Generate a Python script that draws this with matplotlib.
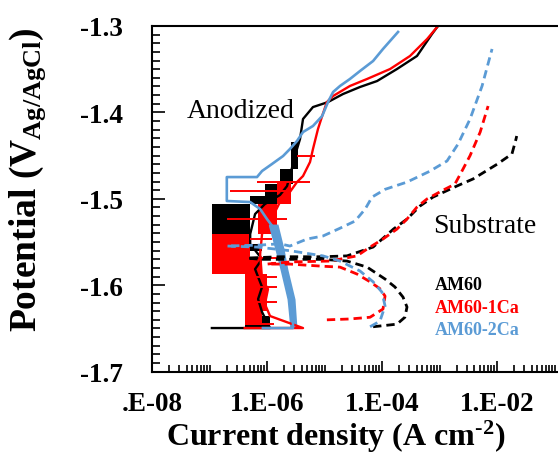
import matplotlib
matplotlib.use("Agg")
import matplotlib.pyplot as plt
from matplotlib.ticker import LogLocator, MultipleLocator, NullFormatter

plt.rcParams["font.family"] = "Liberation Serif"
plt.rcParams["mathtext.fontset"] = "custom"
plt.rcParams["mathtext.rm"] = "Liberation Serif:bold"
plt.rcParams["mathtext.it"] = "Liberation Serif:bold"
plt.rcParams["mathtext.bf"] = "Liberation Serif:bold"

BLACK = "#000000"
RED = "#ff0000"
BLUE = "#5b9bd5"

# ---- anodized samples (solid), potential in V, current in A/cm2 ----
ano_am60_E = [-1.6495, -1.6495, -1.631, -1.616, -1.602, -1.5813, -1.5697, -1.5523,
              -1.5407, -1.5176, -1.506, -1.4956, -1.4852, -1.4736, -1.4597, -1.4424,
              -1.4308, -1.4076, -1.3938, -1.3903, -1.388, -1.3787, -1.3706, -1.3637,
              -1.3498, -1.3347, -1.3093, -1.300]
ano_am60_i = [1.1e-7, 1.13e-6, 8.2e-7, 7.0e-7, 8.2e-7, 6.2e-7, 8.2e-7, 5.1e-7,
              5.1e-7, 6.2e-7, 9.2e-7, 1.68e-6, 2.23e-6, 2.5e-6, 2.83e-6, 3.32e-6,
              3.75e-6, 4.23e-6, 6.3e-6, 9.1e-6, 1.15e-5, 2.1e-5, 4.14e-5, 8.2e-5,
              1.82e-4, 4.06e-4, 7.4e-4, 9.4e-4]
# noisy blocks: bottom potential, top potential, low and high current
am60_blk_Eb = [-1.6495, -1.6299, -1.6113, -1.5604, -1.543, -1.506, -1.497, -1.483, -1.4655]
am60_blk_Et = [-1.6356, -1.6218, -1.6021, -1.5523, -1.506, -1.497, -1.483, -1.4655, -1.434]
am60_blk_lo = [4.1e-7, 4.1e-7, 4.1e-7, 2.0e-7, 1.1e-7, 5.1e-7, 9.2e-7, 1.7e-6, 2.6e-6]
am60_blk_hi = [1.13e-6, 8.2e-7, 8.2e-7, 8.2e-7, 5.1e-7, 1.49e-6, 2.06e-6, 2.8e-6, 3.5e-6]

ano_1ca_E = [-1.6495, -1.6495, -1.6356, -1.6218, -1.6044, -1.5928, -1.5639, -1.5407,
             -1.5315, -1.5199, -1.5037, -1.4921, -1.4806, -1.4736, -1.4574, -1.4424,
             -1.4192, -1.4042, -1.388, -1.381, -1.3694, -1.3613, -1.3498, -1.3347,
             -1.315, -1.300]
ano_1ca_i = [4.1e-7, 4.23e-6, 1.13e-6, 9.2e-7, 1.04e-6, 8.2e-7, 7.6e-7, 8.2e-7,
             1.0e-6, 1.27e-6, 1.68e-6, 2.5e-6, 3.32e-6, 4.23e-6, 5.6e-6, 6.3e-6,
             7.7e-6, 9.1e-6, 1.1e-5, 1.41e-5, 2.77e-5, 5.5e-5, 1.38e-4, 3.07e-4,
             6.1e-4, 9.4e-4]
ca1_blk_Eb = [-1.646, -1.6299, -1.587, -1.5674, -1.5407, -1.5055]
ca1_blk_Et = [-1.6299, -1.587, -1.5674, -1.5407, -1.5055, -1.4806]
ca1_blk_lo = [4.1e-7, 4.1e-7, 1.1e-7, 1.1e-7, 7.0e-7, 1.5e-6]
ca1_blk_hi = [8.2e-7, 1.0e-6, 8.2e-7, 5.1e-7, 1.5e-6, 2.6e-6]
# single noise spikes
ca1_spk_E = [-1.4505, -1.4806, -1.4915, -1.5234, -1.5465, -1.5685, -1.5905,
             -1.602, -1.619, -1.645]
ca1_spk_lo = [3.3e-6, 6.7e-7, 2.3e-7, 2.0e-7, 5.1e-7, 5.1e-7, 6.0e-7,
              6.0e-7, 6.0e-7, 6.0e-7]
ca1_spk_hi = [6.8e-6, 5.6e-6, 2.5e-6, 2.2e-6, 1.2e-6, 1.5e-6, 1.5e-6,
              1.5e-6, 1.5e-6, 1.3e-6]

ano_2ca_E = [-1.6495, -1.6495, -1.616, -1.5813, -1.558, -1.5326, -1.5234, -1.5118,
             -1.5037, -1.5025, -1.4748, -1.4748, -1.4678, -1.4597, -1.4505, -1.4424,
             -1.4331, -1.4227, -1.4157, -1.4042, -1.388, -1.3764, -1.3694, -1.3613,
             -1.3521, -1.3405, -1.3266, -1.3069]
ano_2ca_i = [8.5e-7, 2.83e-6, 2.83e-6, 1.98e-6, 1.6e-6, 1.27e-6, 1.0e-6, 7.6e-7,
             5.1e-7, 2.0e-7, 2.0e-7, 6.7e-7, 8.2e-7, 1.22e-6, 1.9e-6, 2.5e-6,
             3.32e-6, 4.23e-6, 6.3e-6, 9.1e-6, 1.15e-5, 1.41e-5, 1.86e-5, 2.77e-5,
             4.14e-5, 7.0e-5, 1.04e-4, 1.9e-4]
ca2_band_E = [-1.6495, -1.616, -1.5813, -1.558, -1.5292]
ca2_band_lo = [2.5e-6, 2.23e-6, 1.68e-6, 1.37e-6, 1.04e-6]
ca2_band_hi = [3.32e-6, 3.07e-6, 2.3e-6, 1.98e-6, 1.55e-6]

# ---- bare substrates (dashed) ----
sub_am60_E = [-1.648, -1.645, -1.637, -1.6252, -1.6137, -1.602, -1.5928, -1.579,
              -1.572, -1.570, -1.570, -1.570, -1.5685, -1.567, -1.567, -1.566,
              -1.5558, -1.535, -1.5234, -1.5083, -1.498, -1.4852, -1.477, -1.460,
              -1.448, -1.4308, -1.4273]
sub_am60_i = [7.0e-5, 1.82e-4, 2.5e-4, 2.72e-4, 2.32e-4, 1.68e-4, 1.13e-4, 5.5e-5,
              2.46e-5, 9.4e-6, 2.5e-6, 7.6e-7, 4.5e-7, 1.68e-6, 9.4e-6, 2.46e-5,
              7.0e-5, 1.58e-4, 2.72e-4, 4.58e-4, 7.7e-4, 2.0e-3, 3.83e-3, 1.0e-2,
              1.82e-2, 2.14e-2, 2.2e-2]

sub_1ca_E = [-1.640, -1.639, -1.637, -1.6275, -1.6125, -1.604, -1.596, -1.587,
             -1.579, -1.578, -1.5755, -1.5755, -1.573, -1.572, -1.566, -1.5558,
             -1.5465, -1.535, -1.5234, -1.5095, -1.500, -1.490, -1.483, -1.468,
             -1.450, -1.4227, -1.3926]
sub_1ca_i = [1.1e-5, 2.77e-5, 6.2e-5, 1.04e-4, 1.13e-4, 9.2e-5, 6.2e-5, 3.67e-5,
             1.86e-5, 9.4e-6, 2.5e-6, 1.0e-6, 2.5e-6, 1.25e-5, 3.67e-5, 6.2e-5,
             1.04e-4, 1.82e-4, 2.72e-4, 4.06e-4, 6.1e-4, 1.15e-3, 1.85e-3, 2.45e-3,
             3.4e-3, 5.1e-3, 7.0e-3]

sub_2ca_E = [-1.648, -1.6415, -1.624, -1.608, -1.596, -1.5835, -1.572, -1.566,
             -1.560, -1.5558, -1.5546, -1.5535, -1.552, -1.5546, -1.5465, -1.543,
             -1.534, -1.5257, -1.5118, -1.498, -1.489, -1.4806, -1.468, -1.4562,
             -1.4366, -1.4076, -1.3694, -1.3266]
sub_2ca_i = [6.2e-5, 9.2e-5, 1.13e-4, 1.0e-4, 7.0e-5, 4.14e-5, 1.86e-5, 9.4e-6,
             2.5e-6, 6.7e-7, 2.0e-7, 7.6e-7, 1.68e-6, 2.5e-6, 4.96e-6, 9.4e-6,
             1.86e-5, 3.4e-5, 5.1e-5, 6.7e-5, 1.13e-4, 2.72e-4, 6.8e-4, 1.35e-3,
             2.1e-3, 3.4e-3, 5.5e-3, 8.2e-3]

legend_names = ["AM60", "AM60-1Ca", "AM60-2Ca"]
legend_colors = [BLACK, RED, BLUE]
legend_E = [-1.6044, -1.631, -1.6565]

xtick_vals = [1e-8, 1e-6, 1e-4, 1e-2]
xtick_labels = [".E-08", "1.E-06", "1.E-04", "1.E-02"]
ytick_vals = [-1.7, -1.6, -1.5, -1.4, -1.3]
ytick_labels = ["-1.7", "-1.6", "-1.5", "-1.4", "-1.3"]

fig = plt.figure(figsize=(5.58, 4.56), dpi=100)
# plot area runs on past the right edge of the picture (log axis to 1E+00)
ax = fig.add_axes([0.2724, 0.1827, 0.8244, 0.7581])
ax.set_xscale("log")

# anodized, noisy parts
for eb, et, lo, hi in zip(am60_blk_Eb, am60_blk_Et, am60_blk_lo, am60_blk_hi):
    ax.fill_betweenx([eb, et], lo, hi, color=BLACK, lw=0)
ax.plot(ano_am60_i, ano_am60_E, color=BLACK, lw=1.7)

for eb, et, lo, hi in zip(ca1_blk_Eb, ca1_blk_Et, ca1_blk_lo, ca1_blk_hi):
    ax.fill_betweenx([eb, et], lo, hi, color=RED, lw=0)
ax.hlines(ca1_spk_E, ca1_spk_lo, ca1_spk_hi, color=RED, lw=1.4)
ax.plot(ano_1ca_i, ano_1ca_E, color=RED, lw=1.7)

ax.fill_betweenx(ca2_band_E, ca2_band_lo, ca2_band_hi, color=BLUE, lw=0)
ax.plot(ano_2ca_i, ano_2ca_E, color=BLUE, lw=1.9)

# substrates
for i_vals, e_vals, c in [(sub_am60_i, sub_am60_E, BLACK),
                          (sub_1ca_i, sub_1ca_E, RED),
                          (sub_2ca_i, sub_2ca_E, BLUE)]:
    ax.plot(i_vals, e_vals, color=c, lw=2.0, dashes=(3.0, 1.8))

ax.set_xlim(1e-8, 1e0)
ax.set_ylim(-1.7, -1.3)

ax.set_xticks(xtick_vals)
ax.set_xticklabels(xtick_labels)
ax.xaxis.set_minor_locator(LogLocator(base=10, subs=range(1, 10), numticks=50))
ax.xaxis.set_minor_formatter(NullFormatter())
ax.set_yticks(ytick_vals)
ax.set_yticklabels(ytick_labels)
ax.yaxis.set_minor_locator(MultipleLocator(0.01))

ax.tick_params(axis="both", which="both", direction="in", width=1.2,
               top=False, right=False)
ax.tick_params(axis="y", which="major", length=9, pad=21, labelsize=19.5)
ax.tick_params(axis="y", which="minor", length=6)
ax.tick_params(axis="x", which="major", length=8, pad=14, labelsize=19.5)
ax.tick_params(axis="x", which="minor", length=5)
for lbl in ax.get_xticklabels() + ax.get_yticklabels():
    lbl.set_fontweight("bold")

for side in ["left", "bottom", "top"]:
    ax.spines[side].set_linewidth(1.5)
ax.spines["right"].set_visible(False)

ax.set_xlabel(r"Current density (A cm$^{\text{-2}}$)", fontsize=23, fontweight="bold")
ax.xaxis.set_label_coords(0.4, -0.132)
ax.set_ylabel("Potential (V$_{Ag/AgCl}$)", fontsize=27, fontweight="bold")
ax.yaxis.set_label_coords(-0.225, 0.557)

ax.text(4.06e-8, -1.4053, "Anodized", fontsize=20, ha="left", va="baseline")
ax.text(7.7e-4, -1.5384, "Substrate", fontsize=20, ha="left", va="baseline")
for name, c, e in zip(legend_names, legend_colors, legend_E):
    ax.text(8.35e-4, e, name, color=c, fontsize=13, fontweight="bold",
            ha="left", va="baseline")

fig.savefig("out.png", dpi=100)
